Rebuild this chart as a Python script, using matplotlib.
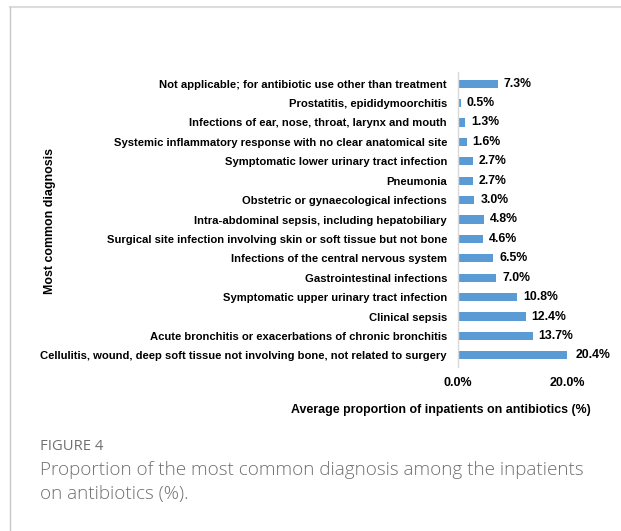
import matplotlib
matplotlib.use("Agg")
import matplotlib.pyplot as plt
from matplotlib.lines import Line2D

categories = [
    "Cellulitis, wound, deep soft tissue not involving bone, not related to surgery",
    "Acute bronchitis or exacerbations of chronic bronchitis",
    "Clinical sepsis",
    "Symptomatic upper urinary tract infection",
    "Gastrointestinal infections",
    "Infections of the central nervous system",
    "Surgical site infection involving skin or soft tissue but not bone",
    "Intra-abdominal sepsis, including hepatobiliary",
    "Obstetric or gynaecological infections",
    "Pneumonia",
    "Symptomatic lower urinary tract infection",
    "Systemic inflammatory response with no clear anatomical site",
    "Infections of ear, nose, throat, larynx and mouth",
    "Prostatitis, epididymoorchitis",
    "Not applicable; for antibiotic use other than treatment",
]
values = [20.4, 13.7, 12.4, 10.8, 7.0, 6.5, 4.6, 4.8, 3.0, 2.7, 2.7, 1.6, 1.3, 0.5, 7.3]
xticks = [0, 20]
xticklabels = ["0.0%", "20.0%"]

W, H = 621, 531
fig = plt.figure(figsize=(W / 100, H / 100), dpi=100)
plt.rcParams['font.family'] = ['Liberation Sans', 'DejaVu Sans']

# frame lines
fig.add_artist(Line2D([10 / W, 1], [1 - 7 / H, 1 - 7 / H], color="#dcdcdc", lw=1.5))
fig.add_artist(Line2D([10 / W, 10 / W], [0, 1 - 7 / H], color="#c8c8c8", lw=1.0))

ax = fig.add_axes([458 / W, 1 - 367 / H, (567 - 458) / W, (367 - 72) / H])
ypos = list(range(len(categories)))
ax.barh(ypos, values, height=0.42, color="#5b9bd5")
ax.set_xlim(0, 20)
ax.set_ylim(-0.6, len(categories) - 0.4)
ax.set_yticks(ypos)
ax.set_yticklabels(categories, fontsize=8.1, fontweight="bold", color="#000000")
ax.set_xticks(xticks)
ax.set_xticklabels(xticklabels, fontsize=9, fontweight="bold")
ax.tick_params(axis="both", length=0)
ax.tick_params(axis="y", pad=8)
ax.tick_params(axis="x", pad=7.5)
for s in ["top", "right", "bottom"]:
    ax.spines[s].set_visible(False)
ax.spines["left"].set_color("#d9d9d9")
ax.spines["left"].set_linewidth(1.0)
for y, v in zip(ypos, values):
    ax.text(v + 1.1, y, f"{v:.1f}%", va="center", ha="left", fontsize=8.8,
            fontweight="bold", clip_on=False)

fig.text(441 / W, 1 - 410 / H, "Average proportion of inpatients on antibiotics (%)",
         ha="center", va="center", fontsize=8.9, fontweight="bold")
fig.text(50 / W, 1 - 221 / H, "Most common diagnosis", rotation=90,
         ha="center", va="center", fontsize=8.9, fontweight="bold")

fig.text(40 / W, 1 - 446 / H, "FIGURE 4", ha="left", va="center", fontsize=10.6,
         color="#707070", family=["Open Sans", "DejaVu Sans"])
fig.text(40 / W, 1 - 470 / H, "Proportion of the most common diagnosis among the inpatients",
         ha="left", va="center", fontsize=13.6, color="#707070",
         family=["Open Sans", "DejaVu Sans"], fontweight="light")
fig.text(40 / W, 1 - 494 / H, "on antibiotics (%).",
         ha="left", va="center", fontsize=13.6, color="#707070",
         family=["Open Sans", "DejaVu Sans"], fontweight="light")

fig.savefig("out.png", dpi=100)
